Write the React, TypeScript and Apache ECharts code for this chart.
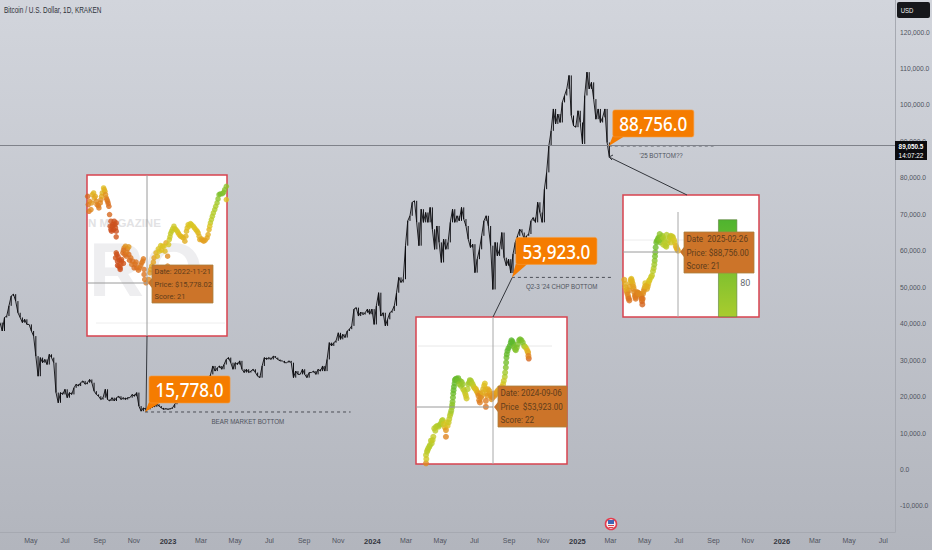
import React, { useEffect, useRef } from "react";
import * as echarts from "echarts";

const titleText = "Bitcoin / U.S. Dollar, 1D, KRAKEN";
const sans = '"Liberation Sans", sans-serif';

const xStart = "2022-03-07";
const xEnd = "2026-07-22";
const stepDays = 4;

const xTickDates = ["2022-05-01","2022-07-01","2022-09-01","2022-11-01","2023-01-01","2023-03-01","2023-05-01","2023-07-01","2023-09-01","2023-11-01","2024-01-01","2024-03-01","2024-05-01","2024-07-01","2024-09-01","2024-11-01","2025-01-01","2025-03-01","2025-05-01","2025-07-01","2025-09-01","2025-11-01","2026-01-01","2026-03-01","2026-05-01","2026-07-01"];
const xTickLabels = ["May","Jul","Sep","Nov","2023","Mar","May","Jul","Sep","Nov","2024","Mar","May","Jul","Sep","Nov","2025","Mar","May","Jul","Sep","Nov","2026","Mar","May","Jul"];
const yTicks = [120000,110000,100000,90000,80000,70000,60000,50000,40000,30000,20000,10000,0,-10000];

// BTC/USD in thousands of dollars, one reading every four days from xStart
const priceK = [
40.3,38.0,41.7,42.1,44.9,47.6,48.1,46.2,43.0,41.7,40.3,41.2,39.8,39.8,38.0,36.6,31.1,25.6,30.7,29.3,30.2,28.8,31.6,30.7,29.3,
21.1,18.3,21.1,20.6,22.0,19.7,21.1,20.6,22.4,23.4,22.9,23.8,24.3,23.4,23.8,24.7,23.8,21.5,20.6,20.1,19.2,19.7,22.0,19.2,18.8,
19.7,18.8,19.7,20.1,19.2,19.7,19.2,19.7,19.7,20.6,20.1,21.1,17.4,16.0,16.9,16.5,16.5,16.9,17.4,17.2,17.9,17.4,16.9,16.5,16.7,16.5,16.7,16.9,17.9,
18.8,21.1,22.4,23.4,23.8,22.9,23.4,24.3,23.4,22.4,23.2,24.7,24.3,22.8,24.8,
26.1,28.4,27.0,27.9,28.4,27.5,28.8,30.2,30.7,29.3,27.5,29.3,28.8,29.8,27.5,26.6,27.5,26.6,27.0,27.5,26.6,25.6,25.2,28.4,30.7,30.2,30.7,30.2,31.1,30.7,30.2,29.8,29.8,29.3,29.3,29.8,29.3,25.2,27.0,26.1,26.1,27.5,26.1,25.2,26.6,26.6,27.0,26.1,27.5,27.0,28.4,27.0,30.2,34.8,33.9,34.8,35.3,37.5,35.7,37.1,36.2,38.0,38.5,39.4,44.0,44.4,42.1,43.2,42.5,43.0,44.0,42.6,44.0,39.8,44.9,48.5,42.1,43.0,39.4,41.2,43.0,43.5,44.9,48.5,52.7,51.3,
52.2,61.4,68.2,69.6,73.3,73.7,67.8,61.4,71.4,67.8,70.5,67.8,71.9,65.9,60.4,66.8,62.3,56.8,63.2,60.4,62.3,67.8,71.4,67.8,69.6,68.2,71.9,68.7,66.8,63.2,60.9,61.8,54.0,57.7,60.4,64.1,68.2,69.6,66.8,61.4,49.4,62.3,58.6,60.4,65.0,58.1,55.9,57.7,53.9,
59.1,62.3,64.1,65.9,65.0,63.2,64.1,64.6,68.2,69.1,67.8,73.3,70.5,67.8,76.9,
81.5,88.8,92.9,98.9,94.8,97.5,95.2,100.7,102.6,104.4,108.1,97.1,94.3,93.9,98.4,95.2,89.3,102.6,109.0,104.4,106.2,101.6,96.1,98.9,95.2,96.6,98.9,89.7,85.6,
];

const currentPrice = 89050.5;
const calloutDates = ["2022-11-21", "2024-09-06", "2025-02-26"];
const calloutLevels = [15778, 52700, 88756];
const calloutLabels = ["15,778.0", "53,923.0", "88,756.0"];
const calloutEnds = ["2023-11-23", "2025-03-03", "2025-09-01"];
const calloutNotes = ["BEAR MARKET BOTTOM", "Q2-3 '24 CHOP BOTTOM", "'25 BOTTOM??"];

// The three pasted score charts: [position, level, score]
const inset1Points = [
[2,420,12],[4,395,15],[6,375,16],[12,380,22],[16,425,32],[20,430,35],[25,420,30],[30,395,20],[36,385,18],[42,410,22],[46,430,35],[50,445,38],[54,435,30],[58,415,20],[62,405,16],[66,390,14],[68,365,13],[72,345,8],[76,330,7],[80,320,6],[84,335,6],[86,325,7],[88,298,8],[88,250,9],[90,245,7],[92,225,6],[96,210,7],[100,205,8],[104,230,10],[108,250,14],[112,265,20],[116,270,24],[122,262,20],[118,240,15],[110,218,8],[100,200,6],[104,225,8],[126,245,14],[132,235,16],[138,225,15],[145,215,15],[150,205,16],[158,205,18],[165,220,18],[170,232,18],[172,200,16],[172,185,16],[174,170,17],[178,160,18],[186,170,22],[190,190,25],[195,210,30],[202,235,28],[208,250,34],[215,262,40],[222,272,42],[228,270,38],[235,255,36],[238,280,30],[243,240,22],[243,210,20],[248,290,44],[252,308,48],[258,322,46],[262,330,45],[268,320,44],[275,310,40],[282,300,36],[290,295,34],[295,285,32],[300,315,36],[305,335,40],[312,338,42],[320,330,40],[328,320,38],[335,310,36],[340,290,30],[345,292,28],[352,285,26],[362,295,30],[368,320,34],[372,340,48],[378,360,52],[385,380,54],[392,400,56],[398,425,62],[408,428,64],[415,440,62],[420,450,60],[420,410,40],
[72,320,6],[78,335,6],[82,345,7],[88,340,7],[70,330,7],[74,315,6],[88,315,6],[94,238,6],[98,228,6],[92,212,6],[86,235,8],[102,215,8],[110,258,16],[114,245,14],[120,252,18],[126,268,26],[135,215,16],[142,205,14],[148,222,16],[155,198,15],[162,212,17],[168,225,18],[128,228,14],[192,200,26],[200,222,28],[212,240,36],[218,255,40],[225,258,38],[232,270,40],[246,275,42],[250,298,46],[255,315,48],[265,322,44],[272,315,42],[278,305,38],[286,298,36],[298,300,34],[302,325,38],[308,330,40],[315,335,42],[324,325,40],[332,315,38],[338,300,34],[348,288,28],[356,288,28],[365,305,32],[370,330,40],[375,350,50],[381,370,52],[388,390,54],[395,412,60],[402,427,64],[412,432,62],
[8,405,20],[14,400,26],[22,415,30],[28,405,22],[34,392,18],[40,400,20],[44,420,30],[52,440,34],[56,425,24],[60,410,18],[64,398,15],
];
const inset2Points = [
[30,2,22],[30,27,48],[33,37,50],[37,47,52],[42,57,52],[47,62,50],[52,82,48],[55,107,50],[60,112,52],[68,112,52],[75,122,54],[80,132,52],[87,110,35],[90,102,25],[90,82,20],[95,115,38],[100,135,48],[104,152,54],[108,170,58],[110,187,62],[112,212,68],[114,232,70],[117,252,70],[122,257,68],[127,258,68],[132,250,62],[137,247,60],[142,225,48],[148,212,46],[152,197,44],[157,240,55],[162,252,58],[167,245,52],[172,235,46],[177,227,42],[182,220,36],[187,212,26],[190,192,20],[193,212,20],[197,205,28],[202,225,36],[207,242,40],[212,212,30],[216,225,30],[210,172,16],[222,212,28],[227,195,24],[232,212,22],[240,210,28],[245,220,30],[255,225,32],[262,240,40],[267,262,52],[270,290,62],[272,320,68],[275,340,72],[282,355,72],[287,372,74],[292,362,70],[298,345,62],[303,350,62],[310,372,66],[317,372,66],[325,355,56],[332,347,40],[337,335,28],[339,317,12],
[31,15,44],[35,42,50],[40,52,52],[45,70,50],[50,72,48],[58,100,50],[64,115,52],[72,118,54],[78,130,52],[83,120,44],[92,125,42],[98,125,46],[102,145,50],[106,160,56],[109,178,60],[111,200,66],[113,222,70],[116,242,70],[119,255,70],[125,250,66],[130,240,60],[135,235,56],[140,240,58],[145,220,48],[150,205,44],[155,225,52],[160,245,56],[165,250,54],[170,240,50],[175,230,44],[180,225,38],[185,215,30],[188,205,22],[192,185,18],[195,200,22],[200,215,32],[205,235,38],[210,225,34],[214,205,26],[210,190,18],[220,220,30],[225,205,26],[230,200,22],[236,205,24],[242,215,28],[250,225,30],[258,232,36],[264,250,46],[268,275,56],[271,305,66],[273,330,70],[278,348,72],[285,365,74],[290,368,72],[295,352,66],[300,342,62],[306,360,64],[313,375,66],[321,365,62],[328,352,50],[335,340,34],[338,325,20],
];
const inset3Points = [
[4,112,30],[8,90,35],[12,75,25],[16,60,18],[19,50,16],[18,80,22],[22,105,34],[25,115,38],[29,100,32],[32,85,25],[36,65,20],[38,55,16],[42,75,20],[46,72,22],[50,70,24],[54,65,20],[57,48,14],[58,38,12],[55,60,18],[60,70,22],[64,85,26],[67,102,40],[72,85,30],[76,100,36],[80,112,44],[87,125,48],[92,147,52],[95,170,60],[97,195,66],[100,225,68],[104,233,66],[108,240,62],[112,225,62],[118,245,56],[122,235,52],[127,215,52],[130,212,50],[137,232,50],[143,245,48],[150,240,44],[155,225,40],[160,210,34],[165,200,30],
[6,100,32],[10,82,30],[14,68,22],[17,55,16],[20,92,28],[24,112,36],[27,108,34],[31,92,28],[34,75,22],[37,60,18],[40,65,18],[44,72,20],[48,70,22],[52,68,22],[56,55,16],[59,55,16],[62,78,24],[66,92,34],[70,95,34],[74,92,32],[78,108,40],[84,120,46],[90,138,50],[94,158,56],[96,183,64],[98,210,68],[102,230,66],[106,238,64],[110,232,62],[115,235,60],[120,240,54],[125,225,52],[133,222,50],[140,240,48],[147,243,46],[153,232,42],[158,215,36],[162,205,32],[121,218,50],[110,250,60],[131,248,52],[144,225,44],
];
const inset3BarPosition = 314;
const inset3BarValue = 80;

const insetTips = [
  ["Date: 2022-11-21", "Price: $15,778.02", "Score: 21"],
  ["Date: 2024-09-06", "Price  $53,923.00", "Score: 22"],
  ["Date  2025-02-26", "Price: $88,756.00", "Score: 21"],
];

const ms = (d: string) => new Date(d + "T00:00:00").getTime();
const fmtY = (v: number) => v.toLocaleString("en-US", { minimumFractionDigits: 1, maximumFractionDigits: 1 });

function hiddenAxis(gridIndex: number, max: number) {
  return { type: "value", gridIndex, min: 0, max, show: false, splitLine: { show: false } };
}
function insetGrid(left: number, top: number, width: number, height: number) {
  return { show: true, left, top, width, height, outerBoundsMode: "none", backgroundColor: "#ffffff", borderColor: "#d8434f", borderWidth: 1.5, containLabel: false };
}
function lineEl(x1: number, y1: number, x2: number, y2: number, stroke: string, z: number, lineWidth = 1) {
  return { type: "line", z, silent: true, shape: { x1, y1, x2, y2 }, style: { stroke, lineWidth } };
}
function tipEls(x: number, y: number, w: number, h: number, ax: number, ay: number, rows: string[], size: number) {
  const rowH = h / 3;
  return [
    { type: "polygon", z: 20, shape: { points: [[ax, ay], [x, ay - 5], [x, ay + 5]] }, style: { fill: "#c97328" } },
    { type: "rect", z: 20, shape: { x, y, width: w, height: h }, style: { fill: "#cc7429", stroke: "#a9803f", lineWidth: 0.8 } },
    ...rows.map((t, i) => ({
      type: "text", z: 21, x: x + 2.5, y: y + rowH * (i + 0.5), scaleX: 0.93,
      style: { text: t, fill: "#5f3d1c", font: `${size}px Roboto, sans-serif`, verticalAlign: "middle" },
    })),
  ];
}

export default function App() {
  const ref = useRef<HTMLDivElement>(null);
  useEffect(() => {
    if (!ref.current) return;
    const chart = echarts.init(ref.current, undefined, { renderer: "svg" });
    const t0 = ms(xStart);
    const day = 86400000;
    const priceData = priceK.map((v, i) => [t0 + i * stepDays * day, v * 1000]);
    const tickMap: Record<number, string> = {};
    xTickDates.forEach((d, i) => (tickMap[ms(d)] = xTickLabels[i]));

    const calloutLift = [36, 40, 36];
    const calloutSeries = {
      type: "custom", xAxisIndex: 0, yAxisIndex: 0, z: 15, clip: false, silent: true,
      data: calloutDates.map((d, i) => [ms(d), calloutLevels[i]]),
      encode: { x: 0, y: 1 },
      renderItem: (params: any, api: any) => {
        const p = api.coord([api.value(0), api.value(1)]);
        const end = api.coord([ms(calloutEnds[params.dataIndex]), api.value(1)]);
        const bx = p[0] + 4, by = p[1] - calloutLift[params.dataIndex], bw = 81, bh = 27;
        return {
          type: "group",
          children: [
            { type: "polygon", shape: { points: [[p[0], p[1]], [bx, by + bh - 1], [bx + 12, by + bh - 1]] }, style: { fill: "#f57c00" } },
            { type: "rect", shape: { x: bx, y: by, width: bw, height: bh, r: 2 }, style: { fill: "#f57c00", stroke: "#f79a3a", lineWidth: 0.6 } },
            { type: "text", x: bx + bw / 2, y: by + bh / 2 + 0.5, scaleX: 0.9, style: { text: calloutLabels[params.dataIndex], fill: "#ffffff", font: '500 19px "Noto Sans", sans-serif', align: "center", verticalAlign: "middle" } },
            { type: "text", x: (p[0] + end[0]) / 2, y: p[1] + 9.5, scaleX: 0.78, style: { text: calloutNotes[params.dataIndex], fill: "#4f535d", font: `8px ${sans}`, align: "center", verticalAlign: "middle" } },
          ],
        };
      },
    };

    const dashSeries = calloutDates.map((d, i) => ({
      type: "line", xAxisIndex: 0, yAxisIndex: 0, symbol: "none", z: 3, silent: true,
      data: [[ms(d), calloutLevels[i]], [ms(calloutEnds[i]), calloutLevels[i]]],
      lineStyle: { color: "#2f323a", width: 0.8, type: [3, 3] },
    }));

    const scatter = (pts: number[][], idx: number, size: number) => ({
      type: "scatter", xAxisIndex: idx, yAxisIndex: idx, data: pts, symbolSize: size, silent: true, z: 3,
      encode: { x: 0, y: 1 },
    });

    // Each four-day reading drawn as a candle body from the previous reading to this one
    const candleSeries = {
      type: "custom", xAxisIndex: 0, yAxisIndex: 0, z: 2, silent: true,
      data: priceData.map((d, i) => [d[0], i > 0 ? priceData[i - 1][1] : d[1], d[1]]),
      encode: { x: 0, y: [1, 2] },
      renderItem: (_: any, api: any) => {
        const a = api.coord([api.value(0), api.value(1)]);
        const b = api.coord([api.value(0), api.value(2)]);
        return { type: "line", shape: { x1: a[0], y1: a[1], x2: b[0], y2: b[1] }, style: { stroke: "#0c0c10", lineWidth: 1 } };
      },
    };

    const option: any = {
      animation: false,
      backgroundColor: new echarts.graphic.LinearGradient(0, 0, 0, 1, [
        { offset: 0, color: "#d2d5dc" },
        { offset: 1, color: "#b2b5bd" },
      ]),
      textStyle: { fontFamily: sans },
      grid: [
        { left: 0, top: 0, width: 895, height: 532, outerBoundsMode: "none", containLabel: false },
        insetGrid(87, 175, 140, 161),
        insetGrid(416, 317, 151, 147),
        insetGrid(623, 195, 136, 122),
      ],
      visualMap: {
        show: false, type: "continuous", dimension: 2, seriesIndex: [5, 6, 7], min: 6, max: 75,
        inRange: { color: ["#cc4f1e", "#dd7a20", "#e3a41f", "#dcc422", "#b5cc2a", "#7cc02c", "#55b52e"] },
      },
      xAxis: [
        {
          type: "value", gridIndex: 0, min: ms(xStart), max: ms(xEnd), scale: true,
          axisLine: { show: true, onZero: false, lineStyle: { color: "#a6a9b1", width: 1 } },
          axisTick: { show: false }, splitLine: { show: false },
          axisLabel: {
            customValues: xTickDates.map(ms), margin: 5, fontSize: 7, color: "#50545e",
            hideOverlap: false, showMinLabel: true, showMaxLabel: true,
            formatter: (v: number) => { const s = tickMap[v] ?? ""; return /^\d/.test(s) ? `{y|${s}}` : s; },
            rich: { y: { fontSize: 7.5, fontWeight: "bold", color: "#33363e", fontFamily: sans } },
          },
        },
        hiddenAxis(1, 422), hiddenAxis(2, 454), hiddenAxis(3, 408),
      ],
      yAxis: [
        {
          type: "value", gridIndex: 0, position: "right", min: -17140, max: 128790,
          axisLine: { show: true, onZero: false, lineStyle: { color: "#a6a9b1", width: 1 } },
          axisTick: { show: false }, splitLine: { show: false },
          axisLabel: { customValues: yTicks, margin: 5, fontSize: 6.7, color: "#50545e", align: "left", formatter: (v: number) => fmtY(v) },
        },
        hiddenAxis(1, 484), hiddenAxis(2, 442), hiddenAxis(3, 368),
        { type: "value", gridIndex: 3, min: 0, max: 100, show: false, splitLine: { show: false } },
      ],
      series: [
        {
          type: "line", xAxisIndex: 0, yAxisIndex: 0, data: priceData, symbol: "none", silent: true, z: 2,
          lineStyle: { color: "#0c0c10", width: 0.9 },
          markLine: {
            silent: true, symbol: "none", label: { show: false },
            lineStyle: { color: "#7f828a", width: 1, type: "solid" },
            data: [{ yAxis: currentPrice }],
          },
        },
        ...dashSeries,
        calloutSeries,
        scatter(inset1Points, 1, 5.5),
        scatter(inset2Points, 2, 6),
        scatter(inset3Points, 3, 6),
        {
          type: "bar", xAxisIndex: 3, yAxisIndex: 4, z: 2, silent: true, barWidth: 19,
          data: [[inset3BarPosition, inset3BarValue]],
          itemStyle: {
            borderColor: "#5d7f3a", borderWidth: 0.6,
            color: new echarts.graphic.LinearGradient(0, 0, 0, 1, [
              { offset: 0, color: "#4fb42f" },
              { offset: 1, color: "#a9cc2e" },
            ]),
          },
          label: { show: true, position: "right", offset: [-2, 15], fontSize: 9, color: "#666a70", fontFamily: "Roboto, sans-serif", formatter: () => String(inset3BarValue) },
        },
        candleSeries,
      ],
      graphic: [
        { type: "text", z: 30, x: 4, y: 6, scaleX: 0.76, style: { text: titleText, fill: "#2f323a", font: `8.5px ${sans}` } },
        // USD button and last-price tag
        { type: "rect", z: 30, shape: { x: 897, y: 2, width: 33, height: 16, r: 2 }, style: { fill: "#16171b" } },
        { type: "text", z: 31, x: 907, y: 10, scaleX: 0.8, style: { text: "USD", fill: "#f2f2f2", font: `7.5px ${sans}`, align: "center", verticalAlign: "middle" } },
        { type: "rect", z: 30, shape: { x: 895, y: 141, width: 32, height: 19 }, style: { fill: "#0b0b0e" } },
        { type: "text", z: 31, x: 911, y: 146, scaleX: 0.85, style: { text: "89,050.5", fill: "#ffffff", font: `bold 7.5px ${sans}`, align: "center", verticalAlign: "middle" } },
        { type: "text", z: 31, x: 911, y: 155, scaleX: 0.85, style: { text: "14:07:22", fill: "#ffffff", font: `7.5px ${sans}`, align: "center", verticalAlign: "middle" } },
        // Watermark pasted behind the first score chart
        { type: "text", z: 1, x: 88, y: 223, style: { text: "N MAGAZINE", fill: "#e2e2e4", font: `bold 11.5px ${sans}`, verticalAlign: "middle" } },
        { type: "text", z: 1, x: 89, y: 269, style: { text: "RO", fill: "#eeeef0", font: `bold 76px ${sans}`, verticalAlign: "middle" } },
        // Faint grid lines of the pasted charts
        lineEl(96, 323, 225, 323, "#eeeeee", 1),
        lineEl(418, 346, 552, 346, "#e8e8e8", 1),
        lineEl(624, 240, 684, 240, "#ececec", 1),
        // Crosshairs
        lineEl(147, 175, 147, 336, "#9a9a9a", 4),
        lineEl(87, 283, 147, 283, "#9a9a9a", 4),
        lineEl(493, 317, 493, 464, "#a8a8a8", 4),
        lineEl(416, 407, 493, 407, "#9a9a9a", 4),
        lineEl(678, 212, 678, 317, "#a8a8a8", 4),
        lineEl(623, 252, 678, 252, "#9a9a9a", 4),
        // Connectors from the pasted charts to the price lows
        lineEl(147, 336, 146, 412, "#33363c", 5),
        lineEl(493, 317, 512, 278, "#33363c", 5),
        lineEl(687, 195, 609, 157, "#33363c", 5),
        lineEl(609, 157, 613, 155, "#33363c", 5),
        lineEl(609, 157, 612, 160, "#33363c", 5),
        ...tipEls(152, 265, 61, 38, 148, 283, insetTips[0], 8),
        ...tipEls(498, 386, 69, 41, 494, 407, insetTips[1], 8.7),
        ...tipEls(684, 232, 70, 41, 680, 252, insetTips[2], 8.7),
        // Flag marker on the time scale
        { type: "circle", z: 30, shape: { cx: 611, cy: 524, r: 5.5 }, style: { fill: "#f4f4f6", stroke: "#e23d4f", lineWidth: 1.6 } },
        { type: "rect", z: 31, shape: { x: 608, y: 520, width: 6, height: 4 }, style: { fill: "#3f66b5" } },
        lineEl(608, 525.5, 614, 525.5, "#d8434f", 31),
        lineEl(608.5, 527.5, 613.5, 527.5, "#d8434f", 31),
      ],
    };
    chart.setOption(option);
    return () => chart.dispose();
  }, []);
  return <div ref={ref} style={{ position: "fixed", left: 0, top: 0, width: 932, height: 550 }} />;
}
